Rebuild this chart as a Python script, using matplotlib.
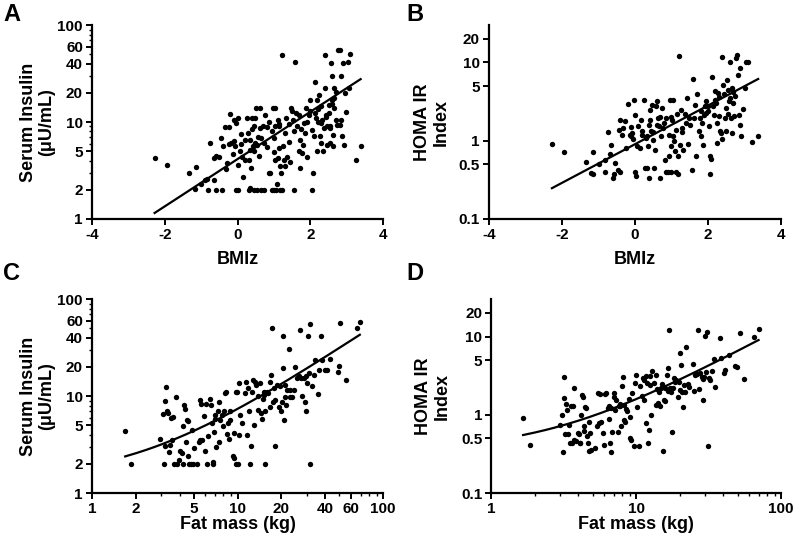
import numpy as np
import matplotlib
matplotlib.use("Agg")
import matplotlib.pyplot as plt
from matplotlib.ticker import FixedLocator, FixedFormatter, LogLocator, NullFormatter, NullLocator

plt.rcParams['font.family'] = ['Liberation Sans', 'DejaVu Sans']
plt.rcParams['font.weight'] = 'bold'
plt.rcParams['axes.unicode_minus'] = False

# ---------------- Panel A: BMIz vs serum insulin ----------------
a_pts = [(-2.28,4.3),(-1.94,3.57),(-1.33,3.0),(-1.15,3.4),(-1.18,2.04),(-1.0,2.3),(-0.83,2.6),(-0.8,2.0),(-0.75,6.05),(-0.66,2.5),(-0.66,4.3),(-0.59,2.0),(-0.5,4.4),(-0.45,6.8),(-0.43,2.0),(-0.40,5.7),(-0.34,8.8),(-0.25,8.8),(-0.29,3.77),(-0.31,3.3),(-0.22,12.1),(-0.18,6.05),(-0.11,6.3),(-0.14,4.7),(-0.06,5.6),(-0.04,2.0),(0.0,2.0),(0.0,10.9),(-0.04,9.7),(0.02,3.6),(0.06,5.0),(0.09,5.9),(0.12,4.4),(0.15,2.7),(0.21,4.1),(0.26,10.9),(0.29,7.7),(0.33,6.55),(0.33,5.1),(0.30,4.1),(0.37,3.35),(0.35,2.07),(0.39,10.9),(0.44,9.0),(0.42,5.7),(0.44,5.0),(0.48,6.05),(0.50,13.8),(0.53,2.0),(0.46,2.0),(0.49,10.9),(0.53,5.8),(0.61,14.1),(0.62,8.7),(0.65,6.9),(0.72,6.05),(0.74,11.9),(0.72,2.0),(0.81,8.8),(0.85,3.0),(0.90,3.0),(0.94,2.0),(0.97,13.8),(1.01,4.9),(1.02,9.1),(1.0,6.8),(1.04,13.8),(1.04,4.1),(1.06,2.0),(1.08,2.3),(1.10,10.5),(1.13,9.0),(1.13,5.4),(1.17,3.5),(1.22,49.5),(1.22,2.0),(1.20,3.0),(1.25,5.6),(1.27,4.1),(1.31,7.7),(1.34,10.9),(1.36,4.4),(1.41,6.2),(1.47,14.0),(1.45,3.9),(1.52,10.4),(1.54,8.0),(1.54,2.0),(1.59,41.2),(1.63,9.1),(1.68,11.9),(1.71,3.35),(1.72,6.55),(1.77,4.8),(1.80,5.8),(1.82,9.7),(1.86,7.7),(1.87,14.1),(1.91,4.4),(1.95,11.9),(1.98,16.9),(2.05,8.3),(2.05,2.0),(2.07,3.0),(2.09,7.1),(2.12,26.1),(2.14,12.3),(2.17,16.9),(2.18,5.0),(2.21,10.1),(2.23,19.1),(2.26,7.1),(2.28,6.05),(2.32,10.5),(2.35,5.0),(2.37,8.6),(2.39,49.1),(2.41,22.3),(2.44,11.9),(2.46,5.8),(2.50,12.3),(2.53,6.05),(2.55,8.6),(2.57,40.3),(2.59,29.5),(2.60,16.9),(2.61,7.4),(2.62,5.6),(2.64,22.3),(2.66,14.0),(2.69,10.5),(2.72,9.35),(2.75,55.3),(2.81,56.0),(2.83,29.9),(2.85,10.5),(2.88,7.1),(2.90,40.3),(2.92,5.8),(2.95,19.8),(2.99,12.8),(3.04,42.0),(3.08,49.9),(3.06,22.3),(3.24,4.1),(3.38,5.6),
         (2.2,13.5),(2.3,14.5),(2.42,11.2),(2.6,15.5),(2.65,17.5),(2.7,20.5),(2.55,9.2),(2.45,9.0),(2.0,13.0),(1.9,10.0),(1.75,8.5),(1.6,12.5),(1.5,13.0),(1.4,9.5),(1.15,9.5),(0.95,8.0),(0.85,10.0),(0.7,9.0),(0.55,7.0),(0.4,8.5),(0.2,6.5),(0.1,7.5),(-0.1,10.5),(-0.25,6.0),(0.6,4.5),(0.8,5.5),(1.1,4.3),(1.3,3.5),(1.7,5.0),(2.3,9.8),(2.15,11.0),(2.8,9.3),(2.5,15.0),(-0.6,4.5),(-0.9,2.5),(0.3,2.0),(0.65,2.0),(1.0,2.0),(1.16,2.0)]
a_bmiz = [p[0] for p in a_pts]
a_insulin = [p[1] for p in a_pts]
a_fit = [0.618, 0.244]          # log10(insulin) = b0 + b1 * BMIz

# ---------------- Panel B: BMIz vs HOMA IR ----------------
b_pts = [(-2.27,0.906),(-1.94,0.72),(-1.33,0.54),(-1.15,0.72),(-1.19,0.385),(-1.15,0.38),(-0.98,0.50),(-0.83,0.57),(-0.81,0.40),(-0.74,1.29),(-0.69,0.67),(-0.64,0.89),(-0.6,0.33),(-0.57,0.38),(-0.53,0.52),(-0.46,0.42),(-0.43,1.36),(-0.40,1.82),(-0.40,0.40),(-0.34,1.19),(-0.31,1.45),(-0.27,1.8),(-0.23,0.8),(-0.19,2.98),(-0.14,1.19),(-0.11,1.14),(-0.08,1.25),(-0.05,1.05),(-0.02,3.35),(0.0,2.15),(0.0,0.40),(0.02,0.35),(0.06,0.85),(0.10,1.53),(0.13,0.8),(0.18,1.86),(0.21,1.32),(0.25,3.35),(0.27,0.45),(0.30,1.08),(0.33,1.14),(0.33,0.45),(0.36,0.85),(0.39,0.33),(0.41,2.5),(0.43,1.86),(0.45,1.32),(0.48,2.9),(0.50,1.03),(0.52,0.45),(0.55,0.77),(0.59,2.76),(0.61,3.2),(0.64,1.95),(0.66,1.53),(0.68,0.33),(0.71,1.14),(0.74,2.6),(0.77,1.45),(0.82,0.57),(0.85,0.40),(0.86,1.95),(0.91,0.40),(0.94,0.63),(0.97,3.35),(0.98,0.85),(1.0,0.40),(1.02,1.86),(1.05,3.35),(1.06,1.14),(1.08,0.98),(1.09,0.73),(1.12,1.38),(1.14,0.40),(1.17,0.63),(1.19,0.38),(1.21,12.0),(1.23,0.89),(1.26,2.5),(1.29,1.45),(1.32,0.77),(1.37,2.2),(1.41,1.69),(1.44,3.5),(1.47,0.9),(1.49,1.95),(1.56,0.42),(1.60,6.2),(1.62,1.95),(1.66,2.9),(1.69,0.63),(1.71,3.9),(1.75,1.32),(1.78,1.95),(1.81,1.14),(1.85,1.69),(1.87,0.89),(1.89,2.15),(1.91,2.76),(1.94,3.2),(1.96,2.26),(2.01,2.8),(2.03,1.53),(2.05,0.63),(2.07,0.38),(2.09,0.58),(2.12,6.5),(2.14,2.76),(2.17,2.15),(2.19,4.3),(2.22,3.04),(2.24,0.93),(2.26,1.69),(2.28,4.1),(2.31,2.05),(2.33,1.34),(2.36,1.25),(2.38,1.05),(2.40,11.8),(2.42,5.2),(2.44,3.9),(2.46,1.95),(2.49,1.32),(2.53,6.0),(2.55,4.5),(2.58,3.2),(2.60,10.0),(2.63,1.95),(2.65,1.25),(2.67,4.7),(2.69,3.04),(2.72,2.05),(2.74,3.7),(2.78,11.5),(2.81,12.3),(2.84,7.0),(2.87,8.5),(2.86,2.15),(2.89,1.6),(2.92,1.14),(2.97,2.55),(3.01,4.7),(3.06,10.1),(3.10,10.0),(3.22,0.95),(3.38,1.16),
         (2.2,3.3),(2.3,3.6),(2.5,2.6),(2.6,3.5),(2.7,4.2),(1.0,2.0),(0.8,1.7),(0.6,1.6),(0.4,1.6),(0.2,1.2),(-0.1,1.5),(1.5,1.6),(1.8,2.4),(2.0,2.4),(1.3,1.3),(1.15,2.2),(0.95,1.2),(0.7,2.0),(0.5,1.3),(2.55,2.2)]
b_bmiz = [p[0] for p in b_pts]
b_homa = [p[1] for p in b_pts]
b_fit = [-0.046, 0.247]         # log10(HOMA) = b0 + b1 * BMIz

# ---------------- Panel C: fat mass vs serum insulin ----------------
c_pts = [(1.69,4.32),(1.85,2.0),(2.94,3.63),(3.06,6.58),(3.13,2.0),(3.18,9.0),(3.21,12.4),(3.18,3.03),(3.26,6.95),(3.35,6.68),(3.40,2.63),(3.44,3.15),(3.48,5.98),(3.53,3.55),(3.59,6.08),(3.67,2.0),(3.78,9.9),(3.83,2.0),(3.93,2.2),(4.03,2.69),(4.14,2.58),(4.21,2.0),(4.25,4.87),(4.30,8.1),(4.36,7.35),(4.43,3.4),(4.48,5.7),(4.53,2.39),(4.60,5.57),(4.67,2.0),(4.77,2.0),(4.85,4.43),(4.93,2.0),(4.98,2.91),(5.25,2.0),(5.39,3.4),(5.48,3.55),(5.53,9.2),(5.62,8.3),(5.68,3.55),(5.84,6.17),(5.99,2.69),(6.05,8.3),(6.15,2.0),(6.25,3.84),(6.42,9.3),(6.56,8.1),(6.66,5.27),(6.73,2.0),(6.76,2.1),(6.84,4.22),(6.95,5.8),(7.02,6.42),(7.13,2.98),(7.28,6.95),(7.40,8.8),(7.48,3.4),(7.60,5.7),(7.80,6.42),(7.93,4.87),(8.09,6.95),(8.22,10.7),(8.36,10.9),(8.45,4.09),(8.54,5.27),(8.67,3.6),(8.81,5.7),(8.91,6.95),(9.24,2.39),(9.38,2.31),(9.48,4.15),(9.68,2.0),(9.79,10.9),(9.89,10.9),(10.0,2.0),(10.2,13.8),(10.3,3.99),(10.4,6.42),(10.8,5.34),(11.3,10.7),(11.5,14.1),(11.6,3.99),(11.7,12.1),(11.9,7.1),(12.1,2.0),(12.4,3.03),(12.6,10.9),(12.8,14.5),(13.0,5.06),(13.2,14.1),(13.4,13.0),(13.7,10.1),(13.9,7.2),(14.2,13.6),(14.5,6.68),(14.7,5.8),(14.9,9.3),(15.1,10.3),(15.3,10.9),(15.5,2.0),(15.5,6.95),(15.9,10.9),(16.3,10.7),(16.6,7.8),(16.8,14.1),(17.0,16.6),(17.2,50.2),(17.5,8.8),(17.7,12.1),(18.0,3.03),(18.2,9.2),(18.7,13.0),(19.1,7.8),(19.5,12.8),(19.9,6.95),(20.2,8.8),(20.5,41.9),(20.5,19.4),(20.7,5.7),(21.0,13.0),(21.3,9.9),(21.6,8.1),(21.8,11.6),(22.4,30.5),(22.8,11.6),(23.0,9.7),(23.6,9.7),(24.3,11.6),(24.9,19.9),(25.6,15.3),(26.3,16.2),(27.0,48.3),(27.4,15.3),(27.7,10.1),(28.5,15.3),(29.2,8.8),(29.5,6.95),(29.7,16.2),(30.0,13.6),(30.3,41.9),(30.8,17.3),(31.3,55.7),(31.6,2.0),(32.5,12.8),(33.3,16.6),(34.2,23.7),(35.5,10.6),(36.1,18.4),(37.6,41.9),(38.0,23.7),(40.1,18.4),(41.2,18.6),(43.4,24.4),(48.8,17.7),(49.5,20.5),(50.8,57.4),(55.1,14.5),(65.6,50.2),(69.1,57.8)]
c_fatmass = [p[0] for p in c_pts]
c_insulin = [p[1] for p in c_pts]
c_fit = [1.37, 0.602]           # insulin = b0 + b1 * fat mass

# ---------------- Panel D: fat mass vs HOMA IR ----------------
d_pts = [(1.66,0.92),(1.85,0.41),(2.97,0.75),(3.07,1.0),(3.17,3.0),(3.13,0.33),(3.20,1.66),(3.25,0.56),(3.29,1.37),(3.34,1.16),(3.37,0.56),(3.43,0.73),(3.48,0.43),(3.56,1.31),(3.61,0.44),(3.67,1.31),(3.71,2.23),(3.75,0.47),(3.87,0.46),(3.95,0.58),(4.02,0.56),(4.08,0.44),(4.12,0.44),(4.19,1.0),(4.24,1.8),(4.28,1.68),(4.35,0.71),(4.39,0.62),(4.46,1.25),(4.54,1.22),(4.58,0.54),(4.63,0.44),(4.71,0.82),(4.76,0.34),(4.83,0.58),(4.89,0.35),(5.23,0.38),(5.37,0.72),(5.46,1.89),(5.57,0.78),(5.66,1.83),(5.75,0.82),(5.91,0.58),(6.04,0.41),(6.13,1.83),(6.23,1.89),(6.36,1.22),(6.47,0.88),(6.53,1.28),(6.64,0.44),(6.71,0.33),(6.74,1.22),(6.85,0.61),(7.0,1.89),(7.08,1.68),(7.18,1.16),(7.30,1.55),(7.46,0.61),(7.58,1.28),(7.70,1.31),(7.78,1.38),(7.87,0.71),(7.99,2.34),(8.12,3.08),(8.20,1.34),(8.29,0.86),(8.42,0.81),(8.56,1.18),(8.64,1.12),(8.87,1.58),(9.02,0.95),(9.12,0.50),(9.26,0.48),(9.36,1.89),(9.61,0.40),(9.87,2.53),(10.0,3.23),(10.1,1.25),(10.4,0.40),(10.7,2.34),(11.0,1.75),(11.1,2.93),(11.3,1.55),(11.4,2.79),(11.6,0.78),(11.7,3.14),(11.9,2.53),(12.1,0.44),(12.2,0.64),(12.4,2.41),(12.5,3.14),(12.7,1.0),(12.9,3.64),(13.2,2.53),(13.6,1.34),(13.8,3.23),(13.9,2.12),(14.1,1.41),(14.3,1.98),(14.7,1.28),(14.8,2.19),(15.1,2.48),(15.3,0.34),(15.5,1.55),(15.7,2.19),(15.9,1.48),(16.3,3.23),(16.6,3.93),(16.7,2.04),(16.9,12.1),(17.2,2.19),(17.4,1.93),(17.6,0.6),(17.9,2.19),(18.3,2.93),(18.6,2.66),(18.9,2.79),(19.3,1.71),(19.6,2.66),(19.9,2.08),(20.2,6.2),(20.5,4.33),(20.7,1.93),(21.0,1.25),(21.2,2.41),(21.8,1.98),(22.2,7.3),(22.6,2.46),(23.0,2.29),(24.5,4.46),(24.9,2.02),(25.6,3.23),(26.2,3.33),(26.7,12.1),(27.2,2.12),(27.7,3.39),(28.4,3.08),(28.8,2.88),(29.1,1.55),(29.5,3.02),(29.9,10.1),(30.4,3.56),(30.7,11.5),(31.1,0.40),(31.6,2.93),(32.4,2.79),(33.3,3.68),(34.2,5.2),(35.1,2.29),(37.6,9.7),(38.4,5.3),(40.5,3.39),(41.1,3.75),(43.4,5.8),(48.2,4.21),(49.5,4.05),(51.6,11.2),(55.6,2.85),(65.2,9.8),(69.8,12.5)]
d_fatmass = [p[0] for p in d_pts]
d_homa = [p[1] for p in d_pts]
d_fit = [0.345, 0.1243]         # HOMA = b0 + b1 * fat mass

# ---------------- tick labels ----------------
ins_ticks = [1, 2, 5, 10, 20, 40, 60, 100]
homa_ticks = [0.1, 0.5, 1, 5, 10, 20]
bmiz_ticks = [-4, -2, 0, 2, 4]
fm_ticks_c = [1, 2, 5, 10, 20, 40, 60, 100]
fm_ticks_d = [1, 10, 100]

ins_label = "Serum Insulin\n(\u03bcU/mL)"
homa_label = "HOMA IR\nIndex"

fig = plt.figure(figsize=(8, 5.46), dpi=100)
axA = fig.add_axes([0.115, 0.599, 0.364, 0.355])
axB = fig.add_axes([0.611, 0.599, 0.365, 0.355])
axC = fig.add_axes([0.115, 0.097, 0.364, 0.355])
axD = fig.add_axes([0.614, 0.097, 0.3625, 0.355])


def style(ax):
    for s in ['top', 'right']:
        ax.spines[s].set_visible(False)
    for s in ['left', 'bottom']:
        ax.spines[s].set_linewidth(1.6)
    ax.tick_params(which='major', direction='out', length=4.5, width=1.4, pad=2, labelsize=11)
    ax.tick_params(which='minor', direction='out', length=2.5, width=1.0)
    for lab in ax.get_xticklabels() + ax.get_yticklabels():
        lab.set_fontweight('bold')


def set_logy(ax, ticks, lim, minor=True):
    ax.set_yscale('log')
    ax.set_ylim(*lim)
    ax.yaxis.set_major_locator(FixedLocator(ticks))
    ax.yaxis.set_major_formatter(FixedFormatter([f"{t:g}" for t in ticks]))
    if minor:
        ax.yaxis.set_minor_locator(LogLocator(base=10, subs=np.arange(2, 10)))
    else:
        ax.yaxis.set_minor_locator(NullLocator())
    ax.yaxis.set_minor_formatter(NullFormatter())


def set_logx(ax, ticks, lim):
    ax.set_xscale('log')
    ax.set_xlim(*lim)
    ax.xaxis.set_major_locator(FixedLocator(ticks))
    ax.xaxis.set_major_formatter(FixedFormatter([f"{t:g}" for t in ticks]))
    ax.xaxis.set_minor_locator(LogLocator(base=10, subs=np.arange(2, 10)))
    ax.xaxis.set_minor_formatter(NullFormatter())


ms = 15
lw = 1.6

# A
axA.scatter(a_bmiz, a_insulin, s=ms, c='black', linewidths=0, zorder=3)
xa = np.linspace(min(a_bmiz), max(a_bmiz), 100)
axA.plot(xa, 10 ** (a_fit[0] + a_fit[1] * xa), color='black', lw=lw)
axA.set_xlim(-4, 4)
axA.set_xticks(bmiz_ticks)
set_logy(axA, ins_ticks, (1, 100))

# B
axB.scatter(b_bmiz, b_homa, s=ms, c='black', linewidths=0, zorder=3)
xb = np.linspace(min(b_bmiz), max(b_bmiz), 100)
axB.plot(xb, 10 ** (b_fit[0] + b_fit[1] * xb), color='black', lw=lw)
axB.set_xlim(-4, 4)
axB.set_xticks(bmiz_ticks)
set_logy(axB, homa_ticks, (0.1, 30), minor=False)

# C
axC.scatter(c_fatmass, c_insulin, s=ms, c='black', linewidths=0, zorder=3)
xc = np.linspace(min(c_fatmass), max(c_fatmass), 200)
axC.plot(xc, c_fit[0] + c_fit[1] * xc, color='black', lw=lw)
set_logx(axC, fm_ticks_c, (1, 100))
set_logy(axC, ins_ticks, (1, 100))

# D
axD.scatter(d_fatmass, d_homa, s=ms, c='black', linewidths=0, zorder=3)
xd = np.linspace(min(d_fatmass), max(d_fatmass), 200)
axD.plot(xd, d_fit[0] + d_fit[1] * xd, color='black', lw=lw)
set_logx(axD, fm_ticks_d, (1, 100))
set_logy(axD, homa_ticks, (0.1, 30), minor=False)

for ax in (axA, axB, axC, axD):
    style(ax)

lab_kw = dict(fontsize=13, fontweight='bold')
axA.set_xlabel("BMIz", **lab_kw)
axB.set_xlabel("BMIz", **lab_kw)
axC.set_xlabel("Fat mass (kg)", **lab_kw)
axD.set_xlabel("Fat mass (kg)", **lab_kw)
axA.set_ylabel(ins_label, linespacing=1.1, **lab_kw)
axC.set_ylabel(ins_label, linespacing=1.1, **lab_kw)
axB.set_ylabel(homa_label, linespacing=1.1, **lab_kw)
axD.set_ylabel(homa_label, linespacing=1.1, **lab_kw)

axA.xaxis.set_label_coords(0.5, -0.165)
axB.xaxis.set_label_coords(0.5, -0.165)
axC.xaxis.set_label_coords(0.5, -0.12)
axD.xaxis.set_label_coords(0.5, -0.12)
axA.yaxis.set_label_coords(-0.127, 0.5)
axC.yaxis.set_label_coords(-0.127, 0.5)
axB.yaxis.set_label_coords(-0.134, 0.5)
axD.yaxis.set_label_coords(-0.141, 0.5)

letter_kw = dict(fontsize=17, fontweight='bold', va='top', ha='left')
fig.text(0.004, 0.995, "A", **letter_kw)
fig.text(0.508, 0.995, "B", **letter_kw)
fig.text(0.004, 0.52, "C", **letter_kw)
fig.text(0.508, 0.52, "D", **letter_kw)

fig.savefig("out.png", dpi=100)
